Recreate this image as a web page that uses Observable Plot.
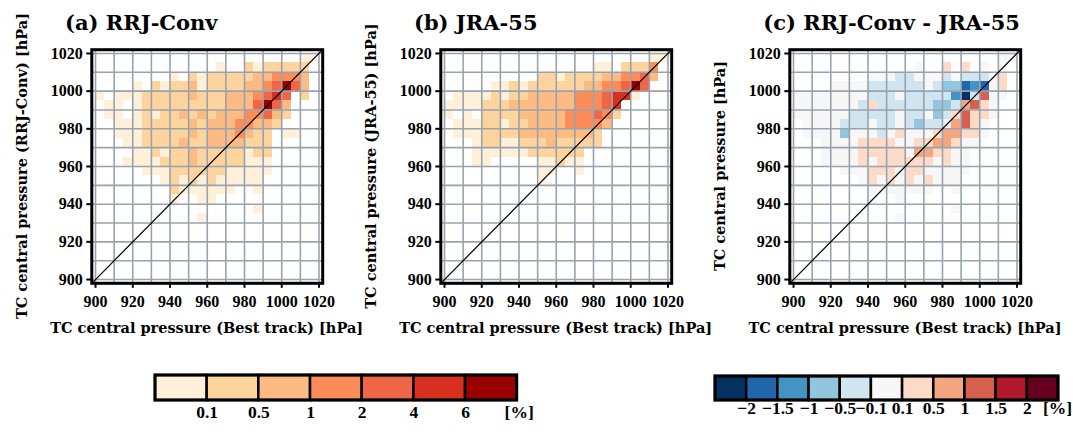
<!DOCTYPE html>
<html><head><meta charset="utf-8">
<script src="https://cdn.jsdelivr.net/npm/d3@7"></script>
<script src="https://cdn.jsdelivr.net/npm/@observablehq/plot@0.6"></script>
<style>
body{margin:0;background:#fff;}
#chart{position:relative;width:1073px;height:432px;overflow:hidden;color:#000;}
.abs{position:absolute;white-space:nowrap;font-family:"DejaVu Serif",serif;font-weight:bold;}
.title{font-size:21px;line-height:21px;}
.axt{font-size:14.5px;line-height:16px;}
.ytitle{transform:translate(-50%,-50%) rotate(-90deg);}
.xtitle{transform:translateX(-50%);}
svg{position:absolute;overflow:visible;}
</style></head><body><div id="chart"></div>
<script>
// ---------- axes ----------
const axisDomain = [898, 1022];
const binSize = 5;
const majorTicks = [900, 920, 940, 960, 980, 1000, 1020];
const gridTicks = [900, 910, 920, 930, 940, 950, 960, 970, 980, 990, 1000, 1010, 1020];

// ---------- colour classes ----------
const freqThresholds = [0.1, 0.5, 1, 2, 4, 6];
const freqLabels = ["0.1", "0.5", "1", "2", "4", "6"];
const freqColors = ["#fef0d9", "#fdd49e", "#fdbb84", "#fc8d59", "#ef6548", "#d7301f", "#990000"];
const freqClassValue = {"1": 0.05, "2": 0.3, "3": 0.75, "4": 1.5, "5": 3, "6": 5, "7": 8};

const diffThresholds = [-2, -1.5, -1, -0.5, -0.1, 0.1, 0.5, 1, 1.5, 2];
const diffLabels = ["\u22122", "\u22121.5", "\u22121", "\u22120.5", "\u22120.1", "0.1", "0.5", "1", "1.5", "2"];
const diffColors = ["#053061", "#2166ac", "#4393c3", "#92c5de", "#d1e5f0", "#f7f7f7", "#fddbc7", "#f4a582", "#d6604d", "#b2182b", "#67001f"];
const diffClassValue = {a: -2.5, b: -1.75, c: -1.25, d: -0.75, e: -0.3, f: 0, g: 0.3, h: 0.75, i: 1.25, j: 1.75, k: 2.5};

// ---------- data: [row pressure (lower edge), first column (lower edge), class per 5 hPa column] ----------
const rrjRows = [
  [1015, 1010, "11"],
  [1010, 965, "1..2122222"],
  [1005, 940, "1.2122222334443"],
  [1000, 920, "1.21223122223345753"],
  [995, 900, "1.1112222232223334565.2"],
  [990, 905, "11.12222222223335753"],
  [985, 905, "11.12122323233344532"],
  [980, 910, "111222223233344332"],
  [975, 910, "11122222323334322.11"],
  [970, 915, "1122223223333222"],
  [965, 920, "112122322222122"],
  [960, 915, "1111222322222111"],
  [955, 925, "11122222211111"],
  [950, 935, "12121211111"],
  [945, 940, "2111111..1"],
  [940, 940, "1..11"],
  [935, 985, "1"],
  [930, 955, "1"]
];

const jraRows = [
  [1015, 1010, "11"],
  [1010, 980, "11.2224"],
  [1005, 950, "2212222334453"],
  [1000, 925, "11212222223344575"],
  [995, 905, "11112122333334445661"],
  [990, 900, "1111222333333344456"],
  [985, 900, "1.1.222233333444542"],
  [980, 905, "11122122333344443"],
  [975, 905, "1112222333333332"],
  [970, 915, "12211222322222"],
  [965, 915, "111111222222"],
  [960, 915, "11.....11211"],
  [955, 950, "11..1"],
  [950, 950, "1"]
];

const diffRows = [
  [1015, 1010, "ff"],
  [1010, 965, "f..g.g.f.f"],
  [1005, 940, "fffeefffefeeefg"],
  [1000, 920, "ffffeeeeeefeddbcbfg"],
  [995, 900, "ffffffffeeefeeeeecaeiff"],
  [990, 900, "fffffffegeeeeeeddehigf"],
  [985, 900, "ffffffeeeeefeefdegiggf"],
  [980, 905, "ffffeeefeefedeefhigf"],
  [975, 905, "ffffdfffefgfffghhggf"],
  [970, 915, "ffffggggffgghhgff"],
  [965, 915, "ffffgggggfhhggff"],
  [960, 915, "ffffgfggggggfgff"],
  [955, 925, "fffgggfggfffff"],
  [950, 935, "fgfgfgfgfff"],
  [945, 940, "fffffff..f"],
  [940, 940, "f..f"],
  [935, 985, "f"],
  [930, 955, "f"]
];

// ---------- text ----------
const panelTitles = ["(a) RRJ-Conv", "(b) JRA-55", "(c) RRJ-Conv - JRA-55"];
const yTitles = ["TC central pressure (RRJ-Conv) [hPa]", "TC central pressure (JRA-55) [hPa]", "TC central pressure [hPa]"];
const xTitle = "TC central pressure (Best track) [hPa]";
const unitLabel = "[%]";

// ---------- build ----------
function expand(rows, classValue) {
  const cells = [];
  for (const [p, start, codes] of rows) {
    Array.from(codes).forEach((c, i) => {
      if (c === ".") return;
      cells.push({x: start + i * binSize, y: p, value: classValue[c]});
    });
  }
  return cells;
}

const chart = document.getElementById("chart");
const numFont = "'Liberation Serif', 'Times New Roman', serif";

function panel(cells, color) {
  return Plot.plot({
    width: 350, height: 340,
    marginLeft: 91.3, marginRight: 27.8, marginTop: 49.2, marginBottom: 57.2,
    x: {domain: axisDomain},
    y: {domain: axisDomain},
    color,
    style: {fontFamily: numFont, fontSize: "16px", fontWeight: "bold", color: "#000", background: "transparent", overflow: "visible"},
    marks: [
      Plot.rect(cells, {x1: "x", x2: d => d.x + binSize, y1: "y", y2: d => d.y + binSize, fill: "value", clip: true, shapeRendering: "crispEdges"}),
      Plot.ruleX(gridTicks, {stroke: "#98a3af", strokeWidth: 1.6}),
      Plot.ruleY(gridTicks, {stroke: "#98a3af", strokeWidth: 1.6}),
      Plot.line(axisDomain.map(v => ({v})), {x: "v", y: "v", stroke: "#000", strokeWidth: 1.2}),
      Plot.frame({stroke: "#000", strokeWidth: 3}),
      Plot.axisX({ticks: majorTicks, tickSize: 5, tickPadding: 7, tickFormat: d => String(d), label: null, strokeWidth: 2, fontSize: 16, fontWeight: "bold"}),
      Plot.axisY({ticks: majorTicks, tickSize: 5, tickPadding: 4, tickFormat: d => String(d), label: null, strokeWidth: 2, fontSize: 16, fontWeight: "bold"})
    ]
  });
}

const panels = [
  {rows: rrjRows, cls: freqClassValue, color: {type: "threshold", domain: freqThresholds, range: freqColors}},
  {rows: jraRows, cls: freqClassValue, color: {type: "threshold", domain: freqThresholds, range: freqColors}},
  {rows: diffRows, cls: diffClassValue, color: {type: "threshold", domain: diffThresholds, range: diffColors}}
];
const panelLeft = [0, 349, 698.3];

panels.forEach((p, k) => {
  const svg = panel(expand(p.rows, p.cls), p.color);
  svg.style.left = panelLeft[k] + "px";
  svg.style.top = "0px";
  chart.appendChild(svg);

  const t = document.createElement("div");
  t.className = "abs title";
  t.textContent = panelTitles[k];
  t.style.left = (65 + panelLeft[k]) + "px";
  t.style.top = "12px";
  chart.appendChild(t);

  const yt = document.createElement("div");
  yt.className = "abs axt ytitle";
  yt.textContent = yTitles[k];
  yt.style.left = (22 + panelLeft[k]) + "px";
  yt.style.top = "166px";
  chart.appendChild(yt);

  const xt = document.createElement("div");
  xt.className = "abs axt xtitle";
  xt.textContent = xTitle;
  xt.style.left = (206.7 + panelLeft[k]) + "px";
  xt.style.top = "320px";
  chart.appendChild(xt);
});

function legendBar(colors, labels, left, width, mLeft, mRight, mTop, labelDy, unitDx) {
  const boxes = colors.map((c, i) => ({i, c}));
  const ticks = labels.map((l, i) => ({pos: i + 1, l}));
  const svg = Plot.plot({
    width, height: 67,
    marginLeft: mLeft, marginRight: mRight, marginTop: mTop, marginBottom: 32,
    x: {domain: [0, colors.length], axis: null},
    y: {domain: [0, 1], axis: null},
    color: {type: "identity"},
    style: {fontFamily: numFont, fontSize: "17.5px", fontWeight: "bold", color: "#000", background: "transparent", overflow: "visible"},
    marks: [
      Plot.rect(boxes, {x1: "i", x2: d => d.i + 1, y1: 0, y2: 1, fill: "c", stroke: "#000", strokeWidth: 2.5}),
      Plot.rect([0], {x1: 0, x2: colors.length, y1: 0, y2: 1, fill: "none", stroke: "#000", strokeWidth: 3}),
      Plot.text(ticks, {x: "pos", text: "l", frameAnchor: "bottom", dy: labelDy, fontSize: 17.5, fontWeight: "bold"}),
      Plot.text([unitLabel], {x: colors.length, text: d => d, frameAnchor: "bottom", dy: labelDy, dx: unitDx, fontSize: 17.5, fontWeight: "bold"})
    ]
  });
  svg.style.left = left + "px";
  svg.style.top = "365px";
  chart.appendChild(svg);
}

legendBar(freqColors, freqLabels, 140, 420, 15, 43.3, 10, 17.5, 2);
legendBar(diffColors, diffLabels, 700, 373, 15, 15, 11, 13, -1);
</script></body></html>
